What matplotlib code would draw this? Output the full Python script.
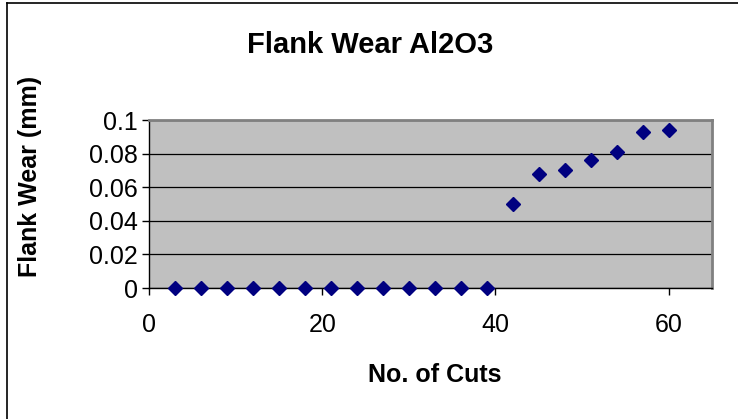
import numpy as np
import matplotlib.pyplot as plt
from matplotlib.lines import Line2D

plt.rcParams['font.family'] = ['Liberation Sans', 'DejaVu Sans']

# Data
cuts = [3, 6, 9, 12, 15, 18, 21, 24, 27, 30, 33, 36, 39, 42, 45, 48, 51, 54, 57, 60]
wear = [0, 0, 0, 0, 0, 0, 0, 0, 0, 0, 0, 0, 0,
        0.050, 0.068, 0.070, 0.076, 0.081, 0.093, 0.094]
x_ticks = [0, 20, 40, 60]
y_ticks = [0, 0.02, 0.04, 0.06, 0.08, 0.1]
y_labels = ['0', '0.02', '0.04', '0.06', '0.08', '0.1']

W, H = 738, 419
fig = plt.figure(figsize=(W / 100, H / 100), dpi=100)

# plot area in pixel coords
left, right, top, bottom = 149, 712, 120, 288
ax = fig.add_axes([left / W, 1 - bottom / H, (right - left) / W, (bottom - top) / H])
ax.set_facecolor('#C0C0C0')

ax.plot(cuts, wear, linestyle='none', marker='D', markersize=7.5,
        color='#000080', clip_on=False, zorder=5)

ax.set_xlim(0, 65)
ax.set_ylim(0, 0.1)
ax.set_xticks(x_ticks)
ax.set_yticks(y_ticks)
ax.set_yticklabels(y_labels)
ax.grid(axis='y', color='black', linewidth=0.9)
ax.set_axisbelow(True)

for s in ['top', 'right']:
    ax.spines[s].set_color('#808080')
    ax.spines[s].set_linewidth(2)
for s in ['left', 'bottom']:
    ax.spines[s].set_color('#000000')
    ax.spines[s].set_linewidth(1)

ax.tick_params(axis='both', direction='out', length=5, width=1, color='black',
               labelsize=18, pad=3)
ax.tick_params(axis='x', pad=13)

# axis titles and chart title
fig.text(435 / W, 1 - 375 / H, 'No. of Cuts', ha='center', va='center',
         fontsize=18, fontweight='bold')
fig.text(30 / W, 1 - 176 / H, 'Flank Wear (mm)', ha='center', va='center',
         rotation=90, fontsize=18, fontweight='bold')
fig.text(370 / W, 1 - 45 / H, 'Flank Wear Al2O3', ha='center', va='center',
         fontsize=21, fontweight='bold')

# chart border (left and top visible)
fig.add_artist(Line2D([7 / W, 7 / W], [0, 1 - 3 / H], transform=fig.transFigure,
                      color='black', linewidth=1.2))
fig.add_artist(Line2D([7 / W, 1], [1 - 3 / H, 1 - 3 / H], transform=fig.transFigure,
                      color='black', linewidth=1.2))

fig.savefig('out.png', dpi=100)
